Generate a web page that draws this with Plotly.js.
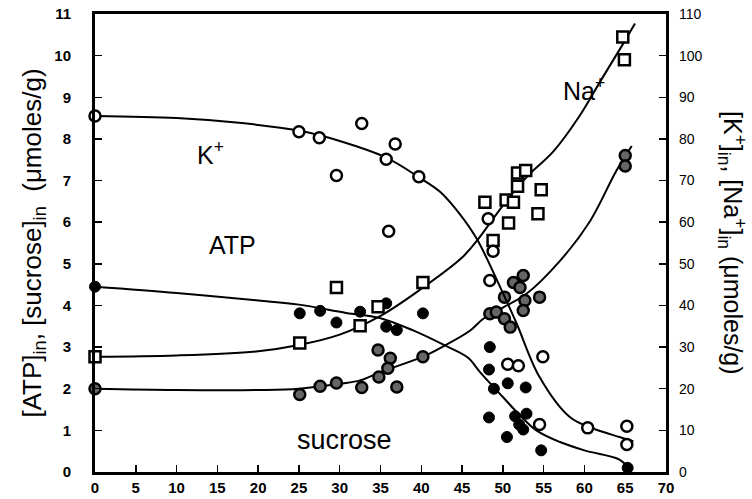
<!DOCTYPE html>
<html><head><meta charset="utf-8">
<script src="https://cdn.plot.ly/plotly-3.0.1.min.js"></script>
<style>html,body{margin:0;padding:0;background:#fff}#chart{width:752px;height:499px}</style>
</head><body><div id="chart"></div>
<script>
// ---- data (x = time, left axis: ATP, sucrose; right axis: K+, Na+) ----
const kX   = [0, 25, 27.5, 29.6, 32.7, 35.7, 36, 36.8, 39.7, 48.2, 48.8, 48.4, 50.6, 51.9, 54.9, 54.5, 60.4, 65.2, 65.2];
const kY   = [85.5, 81.7, 80.3, 71.2, 83.7, 75.1, 57.8, 78.8, 70.9, 60.8, 53, 46, 25.9, 25.5, 27.7, 11.4, 10.6, 11, 6.6];
const naX  = [0, 25.1, 29.6, 32.5, 34.7, 40.2, 48.8, 47.8, 50.4, 51.3, 50.7, 54.3, 51.8, 51.8, 52.8, 54.7, 64.7, 64.9];
const naY  = [27.7, 31, 44.3, 35.1, 39.7, 45.5, 55.6, 64.8, 65.3, 64.8, 59.8, 62, 68.6, 71.8, 72.4, 67.8, 104.5, 99];
const atpX = [0, 25.1, 27.6, 29.6, 32.5, 35.7, 35.7, 37.0, 40.2, 48.4, 48.3, 48.9, 50.6, 52.8, 48.3, 51.5, 52.9, 52.0, 52.5, 50.5, 54.7, 65.3];
const atpY = [4.45, 3.81, 3.87, 3.59, 3.85, 4.05, 3.49, 3.41, 3.81, 3.0, 2.46, 2.0, 2.13, 2.03, 1.31, 1.34, 1.40, 1.14, 1.02, 0.84, 0.52, 0.1];
const sucX = [0, 25.1, 27.6, 29.6, 32.7, 34.8, 34.7, 36.2, 35.9, 37.0, 40.2, 48.4, 49.2, 50.2, 50.2, 51.3, 52.5, 54.5, 52.1, 52.7, 52.5, 50.9, 65, 65];
const sucY = [2.0, 1.86, 2.06, 2.14, 2.03, 2.28, 2.93, 2.73, 2.49, 2.04, 2.77, 3.8, 3.84, 3.68, 4.2, 4.55, 4.72, 4.2, 4.43, 4.12, 3.88, 3.48, 7.6, 7.35];
// fitted curves
const kFitX   = [0, 10, 18, 25, 30, 35.7, 39.7, 42.3, 44.7, 46.8, 50, 51.7, 54.5, 58.2, 61, 64.3, 66];
const kFitY   = [85.5, 85, 83.8, 82, 79.5, 75.5, 70.8, 67.3, 62, 56, 43, 35.6, 22.8, 13.2, 10.5, 8.4, 7.4];
const naFitX  = [0, 10, 20, 25, 30, 35, 40, 45, 47, 50, 53, 56.2, 59.4, 62, 64.7, 66.2];
const naFitY  = [27.7, 28, 29, 30.5, 33, 37.5, 44, 51.5, 56, 64, 71, 77, 85.5, 94, 102.7, 107.7];
const atpFitX = [0, 10, 20, 25, 30.8, 34.9, 39, 42.9, 45.7, 47.2, 50, 52, 54.1, 57, 60, 64.3, 65.3];
const atpFitY = [4.45, 4.3, 4.12, 4.02, 3.82, 3.7, 3.4, 3.04, 2.75, 2.4, 1.8, 1.38, 1.0, 0.72, 0.52, 0.3, 0.12];
const sucFitX = [0, 10, 20, 25, 30, 32.5, 35, 40.2, 42.9, 46, 47.6, 50, 52.9, 57, 60.7, 63.9, 65.8];
const sucFitY = [2.0, 1.97, 1.97, 2.0, 2.12, 2.2, 2.4, 2.77, 3.04, 3.4, 3.68, 3.95, 4.28, 5.07, 6.03, 7.23, 7.83];
const xTicks = [0, 5, 10, 15, 20, 25, 30, 35, 40, 45, 50, 55, 60, 65, 70];
const yTicks = [0, 1, 2, 3, 4, 5, 6, 7, 8, 9, 10, 11];
const y2Ticks = [0, 10, 20, 30, 40, 50, 60, 70, 80, 90, 100, 110];

const lineStyle = {color: '#000', width: 2, shape: 'spline', smoothing: 1};
const traces = [
  {x: kFitX, y: kFitY, yaxis: 'y2', mode: 'lines', line: lineStyle, hoverinfo: 'skip'},
  {x: naFitX, y: naFitY, yaxis: 'y2', mode: 'lines', line: lineStyle, hoverinfo: 'skip'},
  {x: atpFitX, y: atpFitY, mode: 'lines', line: lineStyle, hoverinfo: 'skip'},
  {x: sucFitX, y: sucFitY, mode: 'lines', line: lineStyle, hoverinfo: 'skip'},
  {x: naX, y: naY, yaxis: 'y2', mode: 'markers', cliponaxis: false,
   marker: {symbol: 'square', size: 11, color: '#fff', line: {color: '#000', width: 2.5}}},
  {x: kX, y: kY, yaxis: 'y2', mode: 'markers', cliponaxis: false,
   marker: {symbol: 'circle', size: 11, color: '#fff', line: {color: '#000', width: 2.5}}},
  {x: sucX, y: sucY, mode: 'markers', cliponaxis: false,
   marker: {symbol: 'circle', size: 11, color: '#666', line: {color: '#000', width: 2.5}}},
  {x: atpX, y: atpY, mode: 'markers', cliponaxis: false,
   marker: {symbol: 'circle', size: 11, color: '#000', line: {color: '#000', width: 1}}}
];

const tickFontB = {family: 'Liberation Sans Narrow, Arial Narrow, Liberation Sans, Arial', size: 15, color: '#000', weight: 'bold'};
const layout = {
  width: 752, height: 499,
  margin: {l: 95, r: 86, t: 14, b: 27},
  paper_bgcolor: '#fff', plot_bgcolor: '#fff',
  showlegend: false,
  xaxis: {range: [0, 70], tickvals: xTicks, ticktext: xTicks.map(String),
    ticks: 'inside', ticklen: 7, tickwidth: 1.5, tickcolor: '#000',
    showline: true, linewidth: 3, linecolor: '#000', mirror: true,
    showgrid: false, zeroline: false, tickfont: tickFontB},
  yaxis: {range: [0, 11], tickvals: yTicks, ticktext: yTicks.map(String),
    ticks: 'inside', ticklen: 7, tickwidth: 1.5, tickcolor: '#000',
    showline: true, linewidth: 3, linecolor: '#000', mirror: true,
    showgrid: false, zeroline: false, tickfont: tickFontB, ticklabelstandoff: 18,
    title: {text: '[ATP]<sub>in</sub>, [sucrose]<sub>in</sub>  (μmoles/g)', standoff: 6,
      font: {family: 'Liberation Sans, Arial', size: 26, color: '#000'}}},
  yaxis2: {range: [0, 110], overlaying: 'y', side: 'right', tickvals: y2Ticks, ticktext: y2Ticks.map(String),
    ticks: 'inside', ticklen: 7, tickwidth: 1.5, tickcolor: '#000',
    showline: false, showgrid: false, zeroline: false, ticklabelstandoff: 12,
    tickfont: {family: 'Liberation Sans Narrow, Arial Narrow, Liberation Sans, Arial', size: 14, color: '#000'}},
  annotations: [
    {x: 14.1, y: 7.67, xref: 'x', yref: 'y', text: 'K<sup>+</sup>', showarrow: false,
     font: {family: 'Liberation Sans, Arial', size: 25, color: '#000'}},
    {x: 60, y: 9.2, xref: 'x', yref: 'y', text: 'Na<sup>+</sup>', showarrow: false,
     font: {family: 'Liberation Sans, Arial', size: 25, color: '#000'}},
    {x: 16.8, y: 5.46, xref: 'x', yref: 'y', text: 'ATP', showarrow: false,
     font: {family: 'Liberation Sans, Arial', size: 25, color: '#000'}},
    {x: 30.6, y: 0.76, xref: 'x', yref: 'y', text: 'sucrose', showarrow: false,
     font: {family: 'Liberation Sans, Arial', size: 27, color: '#000'}},
    {x: 1, xref: 'paper', xanchor: 'center', xshift: 66, y: 0.5, yref: 'paper', textangle: 90,
     text: '[K<sup>+</sup>]<sub>in</sub>, [Na<sup>+</sup>]<sub>in</sub> (μmoles/g)', showarrow: false,
     font: {family: 'Liberation Sans, Arial', size: 25, color: '#000'}}
  ]
};
Plotly.newPlot('chart', traces, layout, {displayModeBar: false, staticPlot: true});
</script></body></html>
